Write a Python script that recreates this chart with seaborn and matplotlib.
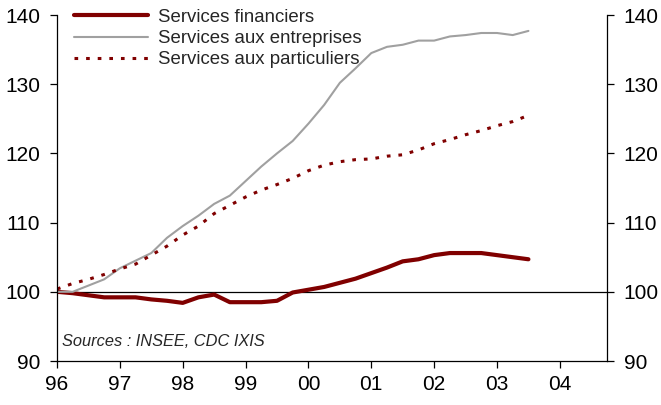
import matplotlib
matplotlib.use("Agg")
import matplotlib.pyplot as plt
import seaborn as sns
import numpy as np
import pandas as pd

# ---- data (quarterly, 1996Q1 .. 2003Q3) ----
quarters = [1996 + q / 4 for q in range(31)]
financiers = [100.0, 99.8, 99.5, 99.2, 99.2, 99.2, 98.9, 98.7, 98.4, 99.2, 99.6,
              98.5, 98.5, 98.5, 98.7, 99.9, 100.3, 100.7, 101.3, 101.9, 102.7,
              103.5, 104.4, 104.7, 105.3, 105.6, 105.6, 105.6, 105.3, 105.0, 104.7]
entreprises = [100.0, 100.0, 100.9, 101.8, 103.4, 104.5, 105.6, 107.8, 109.5, 111.0,
               112.7, 113.9, 116.0, 118.1, 120.0, 121.8, 124.3, 127.0, 130.2, 132.3,
               134.5, 135.4, 135.7, 136.3, 136.3, 136.9, 137.1, 137.4, 137.4, 137.1, 137.7]
particuliers = [100.4, 101.2, 101.8, 102.5, 103.3, 104.0, 105.3, 106.6, 108.2, 109.5,
                111.3, 112.5, 113.7, 114.7, 115.5, 116.4, 117.5, 118.3, 118.8, 119.1,
                119.2, 119.6, 119.8, 120.5, 121.4, 122.0, 122.7, 123.3, 124.0, 124.6, 125.5]
series_names = ["Services financiers", "Services aux entreprises", "Services aux particuliers"]
year_ticks = list(range(1996, 2005))
year_labels = ["96", "97", "98", "99", "00", "01", "02", "03", "04"]
y_ticks = [90, 100, 110, 120, 130, 140]
source_text = "Sources : INSEE, CDC IXIS"

sns.set_style("ticks")
plt.rcParams["font.family"] = ["Liberation Sans", "DejaVu Sans"]

df = pd.DataFrame({"t": quarters, series_names[0]: financiers,
                   series_names[1]: entreprises, series_names[2]: particuliers})

fig = plt.figure(figsize=(6.61, 4.05), dpi=100)
ax = fig.add_axes([57 / 661, 44 / 405, 550 / 661, 346 / 405])

red = "#800000"
sns.lineplot(data=df, x="t", y=series_names[0], ax=ax, color=red, lw=3.0,
             label=series_names[0])
sns.lineplot(data=df, x="t", y=series_names[1], ax=ax, color="#a0a0a0", lw=1.5,
             label=series_names[1])
sns.lineplot(data=df, x="t", y=series_names[2], ax=ax, color=red, lw=2.2,
             linestyle=(0, (1.2, 2.6)), label=series_names[2])

ax.axhline(100, color="black", lw=0.9, zorder=1)

ax.set_xlim(1996, 2004.75)
ax.set_ylim(90, 140)
ax.set_xticks(year_ticks)
ax.set_xticklabels(year_labels)
ax.set_yticks(y_ticks)
ax.set_xlabel("")
ax.set_ylabel("")
for s in ["left", "bottom", "right"]:
    ax.spines[s].set_visible(True)
    ax.spines[s].set_linewidth(0.9)
    ax.spines[s].set_color("black")
ax.spines["top"].set_visible(False)
ax.tick_params(axis="both", direction="out", length=5, width=0.9, labelsize=15,
               colors="black")
ax.tick_params(axis="y", right=True, labelright=True, pad=7)
ax.tick_params(axis="x", pad=5)

leg = ax.legend(loc="upper left", bbox_to_anchor=(0.0, 1.066), frameon=False,
                fontsize=13.4, handlelength=4.0, handletextpad=0.5,
                labelspacing=0.22, borderaxespad=0.5)

ax.text(0.01, 0.056, source_text, transform=ax.transAxes, fontsize=11.8,
        style="italic", va="center", ha="left")

fig.savefig("out.png", dpi=100)
